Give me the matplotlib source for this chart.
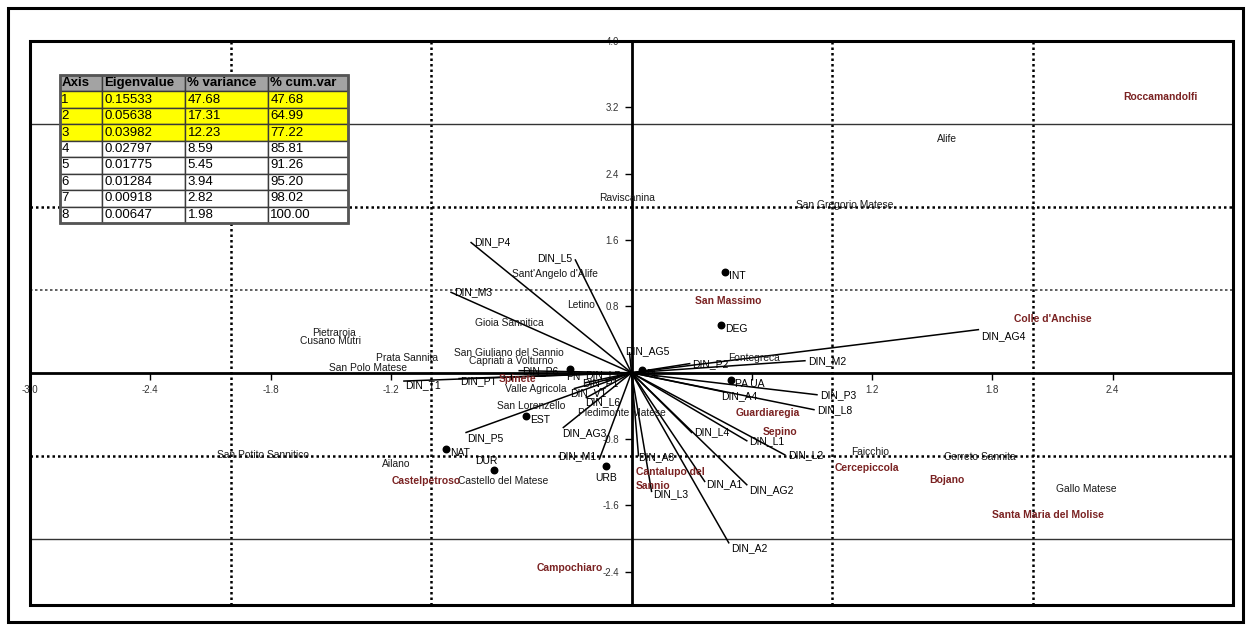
import numpy as np
import matplotlib
matplotlib.use("Agg")
import matplotlib.pyplot as plt
from matplotlib.patches import Rectangle

plt.rcParams['font.family'] = ['Liberation Sans', 'DejaVu Sans']

# eigenvalue table
tab_header = ["Axis", "Eigenvalue", "% variance", "% cum.var"]
tab_axis = ["1", "2", "3", "4", "5", "6", "7", "8"]
tab_eigen = ["0.15533", "0.05638", "0.03982", "0.02797", "0.01775", "0.01284", "0.00918", "0.00647"]
tab_var = ["47.68", "17.31", "12.23", "8.59", "5.45", "3.94", "2.82", "1.98"]
tab_cum = ["47.68", "64.99", "77.22", "85.81", "91.26", "95.20", "98.02", "100.00"]

# variable vectors (PCA loadings)
vec_names = ["DIN_P4", "DIN_L5", "DIN_M3", "DIN_AG4", "DIN_M2", "DIN_P2", "DIN_AG5",
             "DIN_P3", "DIN_L8", "DIN_A4", "DIN_L1", "DIN_L2", "DIN_L4", "DIN_A3",
             "DIN_L3", "DIN_A1", "DIN_AG2", "DIN_A2", "DIN_M1", "DIN_AG3", "DIN_P5",
             "DIN_T1", "DIN_PT", "DIN_P6", "DIN_L7", "DIN_P1", "DIN_V1", "DIN_L6"]
vec_x = [-0.80, -0.28, -0.90, 1.73, 0.865, 0.29, -0.01,
         0.925, 0.91, 0.46, 0.575, 0.765, 0.30, 0.035,
         0.10, 0.365, 0.575, 0.485, -0.16, -0.34, -0.825,
         -1.135, -0.86, -0.56, -0.225, -0.23, -0.285, -0.225]
vec_y = [1.57, 1.36, 0.97, 0.52, 0.145, 0.11, 0.24,
         -0.265, -0.445, -0.23, -0.82, -0.99, -0.72, -1.0,
         -1.43, -1.31, -1.35, -2.05, -1.04, -0.66, -0.72,
         -0.10, -0.07, 0.025, -0.01, -0.12, -0.19, -0.30]

# supplementary points
pt_names = ["INT", "DEG", "PA UA", "EST", "NAT", "DUR", "URB", "PN", "PL"]
pt_x = [0.465, 0.445, 0.495, -0.525, -0.925, -0.685, -0.125, -0.305, 0.05]
pt_y = [1.22, 0.58, -0.085, -0.52, -0.915, -1.17, -1.13, 0.05, 0.035]

# municipalities
town_names = ["Alife", "San Gregorio Matese", "Raviscanina", "Sant'Angelo d'Alife", "Letino",
              "Gioia Sannitica", "Pietraroja", "Cusano Mutri", "Prata Sannita", "San Polo Matese",
              "San Giuliano del Sannio", "Capriati a Volturno", "Valle Agricola", "San Lorenzello",
              "Piedimonte Matese", "Fontegreca", "San Potito Sannitico", "Ailano",
              "Castello del Matese", "Faicchio", "Cerreto Sannita", "Gallo Matese"]
town_x = [1.575, 1.065, -0.02, -0.38, -0.25, -0.61, -1.485, -1.50, -1.12, -1.315,
          -0.61, -0.60, -0.48, -0.50, -0.05, 0.61, -1.84, -1.175, -0.64, 1.19, 1.735, 2.27]
town_y = [2.82, 2.02, 2.11, 1.19, 0.82, 0.60, 0.48, 0.385, 0.18, 0.06,
          0.24, 0.145, -0.19, -0.40, -0.48, 0.18, -0.99, -1.10, -1.30, -0.96, -1.01, -1.40]

molise_names = ["Roccamandolfi", "San Massimo", "Colle d'Anchise", "Guardiaregia", "Sepino",
                "Cantalupo del\nSannio", "Cercepiccola", "Bojano", "Santa Maria del Molise",
                "Castelpetroso", "Campochiaro", "Spinete"]
molise_x = [2.64, 0.48, 2.10, 0.68, 0.74, 0.02, 1.175, 1.575, 2.075, -1.025, -0.31, -0.57]
molise_y = [3.33, 0.87, 0.65, -0.49, -0.72, -1.28, -1.145, -1.29, -1.72, -1.30, -2.35, -0.08]

# label placement for vectors: (dx, dy in points, ha)
vec_off = {"DIN_L5": (-2, 1, "right"), "DIN_M1": (-2, 2, "right"), "DIN_AG4": (2, -5, "left"),
           "DIN_AG3": (-1, -4, "left"), "DIN_P5": (1, -4, "left"), "DIN_T1": (1, -3, "left"),
           "DIN_PT": (1, -2, "left"), "DIN_A3": (0, -1, "left"), "DIN_A2": (2, -4, "left"),
           "DIN_L3": (1, -2, "left"), "DIN_A1": (1, -2, "left"), "DIN_AG2": (2, -4, "left"),
           "DIN_A4": (-2, -3, "left"), "DIN_AG5": (-3, 1, "left"), "DIN_L7": (-1, -1, "left"),
           "DIN_P1": (-2, 0, "left"), "DIN_V1": (-3, -3, "left"), "DIN_L6": (-1, -3, "left")}
pt_off = {"DUR": (-6, 6, "center"), "URB": (0, -8, "center"), "PN": (2, -6, "center")}

W, H = 1251, 630
fig = plt.figure(figsize=(W / 100, H / 100), dpi=100)
fig.patches.append(Rectangle((8 / W, 8 / H), 1235 / W, 614 / H, transform=fig.transFigure,
                             fill=False, lw=2.2, ec="black"))

ax = fig.add_axes([30 / W, 25 / H, 1203 / W, 564 / H])
ax.set_xlim(-3.0, 3.0)
ax.set_ylim(-2.8, 4.0)

# reference lines
for gx in [-2, -1, 1, 2]:
    ax.axvline(gx, color="black", ls=(0, (1, 1.2)), lw=1.8, zorder=1)
ax.axhline(3, color="#333333", lw=1.0, zorder=1)
ax.axhline(2, color="black", ls=(0, (1, 1.2)), lw=1.8, zorder=1)
ax.axhline(1, color="#444444", ls=(0, (1.5, 1.5)), lw=1.2, zorder=1)
ax.axhline(-1, color="black", ls=(0, (1, 1.2)), lw=1.8, zorder=1)
ax.axhline(-2, color="#333333", lw=1.0, zorder=1)

# axes through origin
for s in ["top", "right"]:
    ax.spines[s].set_visible(False)
ax.spines["left"].set_position(("data", 0))
ax.spines["bottom"].set_position(("data", 0))
ax.spines["left"].set_linewidth(2)
ax.spines["bottom"].set_linewidth(2)
ax.add_patch(Rectangle((0, 0), 1, 1, transform=ax.transAxes, fill=False, lw=2.2,
                       ec="black", clip_on=False, zorder=5))

xt = [-3.0, -2.4, -1.8, -1.2, -0.6, 0.6, 1.2, 1.8, 2.4]
ax.set_xticks(xt)
ax.set_xticklabels(["-3.0", "-2.4", "-1.8", "-1.2", "", "", "1.2", "1.8", "2.4"])
yt = [-2.4, -1.6, -0.8, 0.8, 1.6, 2.4, 3.2, 4.0]
ax.set_yticks(yt)
ax.set_yticklabels(["-2.4", "-1.6", "-0.8", "0.8", "1.6", "2.4", "3.2", "4.0"])
ax.tick_params(axis="both", direction="out", length=5, width=1, labelsize=7,
               labelcolor="#333333", pad=4)

# vectors
for n, x, y in zip(vec_names, vec_x, vec_y):
    ax.plot([0, x], [0, y], color="black", lw=1.1, zorder=3)
    dx, dy, ha = vec_off.get(n, (2, 0, "left"))
    ax.annotate(n, (x, y), xytext=(dx, dy), textcoords="offset points",
                ha=ha, va="center", fontsize=7.5, color="black", zorder=4)

# points
ax.scatter(pt_x, pt_y, s=22, color="black", zorder=4)
for n, x, y in zip(pt_names, pt_x, pt_y):
    dx, dy, ha = pt_off.get(n, (3, -3, "left"))
    ax.annotate(n, (x, y), xytext=(dx, dy), textcoords="offset points",
                ha=ha, va="center", fontsize=7.5, color="black", zorder=4)

for n, x, y in zip(town_names, town_x, town_y):
    ax.text(x, y, n, ha="center", va="center", fontsize=7.4, color="#1a1a1a", zorder=4)

for n, x, y in zip(molise_names, molise_x, molise_y):
    ha = "left" if n.startswith("Cantalupo") else "center"
    ax.text(x, y, n, ha=ha, va="center", fontsize=7.5, color="#7a2222",
            fontweight="bold", zorder=4, linespacing=1.5)

# eigenvalue table
tax = fig.add_axes([60 / W, (H - 223) / H, 288 / W, 148 / H])
tax.axis("off")
cells = [[a, e, v, c] for a, e, v, c in zip(tab_axis, tab_eigen, tab_var, tab_cum)]
tbl = tax.table(cellText=cells, colLabels=tab_header, bbox=[0, 0, 1, 1],
                cellLoc="left", colLoc="left", colWidths=[42, 83, 83, 80])
tbl.auto_set_font_size(False)
tbl.set_fontsize(9.5)
for (r, c), cell in tbl.get_celld().items():
    cell.PAD = 0.03
    cell.set_edgecolor("#3a3a3a")
    cell.set_linewidth(1.0)
    if r == 0:
        cell.set_facecolor("#a3a3a3")
        cell.get_text().set_fontweight("bold")
    elif r <= 3:
        cell.set_facecolor("#ffff00")
    else:
        cell.set_facecolor("white")
tax.add_patch(Rectangle((0, 0), 1, 1, transform=tax.transAxes, fill=False, lw=2,
                        ec="#555555", clip_on=False))

fig.savefig("out.png", dpi=100)
